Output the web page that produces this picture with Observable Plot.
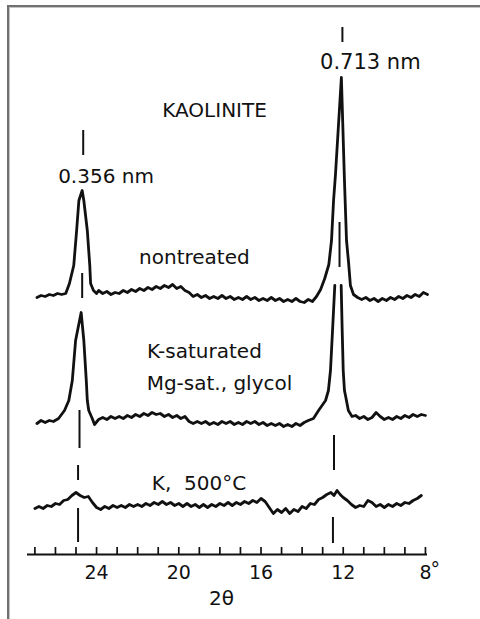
<!DOCTYPE html>
<html>
<head>
<meta charset="utf-8">
<script src="https://cdn.jsdelivr.net/npm/d3@7"></script>
<script src="https://cdn.jsdelivr.net/npm/@observablehq/plot@0.6"></script>
<style>
  html, body { margin: 0; padding: 0; background: #fff; }
  #wrap { position: relative; width: 480px; height: 619px; overflow: hidden; }
  #frame { position: absolute; left: 7px; top: 5px; right: -10px; bottom: -10px;
           border-top: 2px solid #707070; border-left: 2px solid #707070;
           box-shadow: inset 1px 1px 0 #c4c4c4; pointer-events: none; }
</style>
</head>
<body>
<div id="wrap"><div id="frame"></div></div>
<script>
// ---- data (2θ in degrees, relative intensity) ----
const minorTicks = [27,26,25,24,23,22,21,20,19,18,17,16,15,14,13,12,11,10,9,8];
const tickLabels = [24,20,16,12,8];
const seriesNames = ["nontreated", "K-saturated / Mg-sat., glycol", "K, 500°C"];
const offsets = [258, 133, 47];

const nontreated = [
[26.9,-1],[26.7,1],[26.5,0],[26.3,2],[26.1,1],[25.9,3],[25.7,2],[25.5,3],[25.32,13],[25.11,31],
[24.97,66],[24.86,96],[24.7,106],[24.62,96],[24.45,66],[24.33,31],[24.29,13],[24.15,6],[24.0,3],
[23.9,6],[23.7,3],[23.5,5],[23.3,2],[23.1,4],[22.9,3],[22.7,6],[22.5,4],[22.3,7],[22.1,5],[21.9,8],
[21.7,6],[21.5,9],[21.3,7],[21.1,10],[20.9,8],[20.7,11],[20.5,9],[20.3,12],[20.1,8],[19.9,10],
[19.7,6],[19.5,4],[19.3,0],[19.1,2],[18.9,-1],[18.7,1],[18.5,-2],[18.3,0],[18.1,-2],[17.9,1],
[17.7,-2],[17.5,0],[17.3,-3],[17.1,-1],[16.9,-3],[16.7,0],[16.5,-3],[16.3,-1],[16.1,-4],[15.9,-2],
[15.7,-4],[15.5,-1],[15.3,-4],[15.1,-2],[14.9,-5],[14.7,-3],[14.5,-5],[14.3,-2],[14.1,-5],[13.9,-6],
[13.7,-3],[13.5,-5],[13.3,0],[13.1,7],[12.9,18],[12.7,32],[12.57,56],[12.47,96],[12.38,121],
[12.09,219],[11.94,116],[11.84,56],[11.74,34],[11.65,11],[11.5,2],[11.3,-1],[11.1,-3],[10.9,-1],
[10.7,-4],[10.5,-2],[10.3,-5],[10.1,-2],[9.9,-4],[9.7,-1],[9.5,-3],[9.3,0],[9.1,-2],[8.9,1],
[8.7,-1],[8.5,2],[8.3,0],[8.1,4],[7.9,2]
];

const kSaturated = [
[26.9,-2],[26.7,1],[26.5,-1],[26.3,1],[26.1,0],[25.85,3],[25.56,11],[25.35,21],[25.18,41],[25.02,81],
[24.75,109],[24.62,81],[24.5,41],[24.45,21],[24.38,11],[24.21,3],[24.1,-3],[23.9,2],[23.7,4],[23.5,2],
[23.3,5],[23.1,3],[22.9,5],[22.7,3],[22.5,6],[22.3,4],[22.1,7],[21.9,5],[21.7,8],[21.5,6],[21.3,9],
[21.1,7],[20.9,8],[20.7,5],[20.5,7],[20.3,4],[20.1,6],[19.9,3],[19.7,5],[19.5,0],[19.3,-2],[19.1,0],
[18.9,-2],[18.7,0],[18.5,-3],[18.3,-1],[18.1,-3],[17.9,0],[17.7,-2],[17.5,0],[17.3,-3],[17.1,-1],
[16.9,-3],[16.7,0],[16.5,-2],[16.3,0],[16.1,-3],[15.9,-1],[15.7,-4],[15.5,-2],[15.3,-4],[15.1,-2],
[14.9,-5],[14.7,-3],[14.5,-5],[14.3,-2],[14.1,-4],[13.9,-1],[13.7,1],[13.45,3],[13.2,11],[12.86,21],
[12.72,31],[12.62,51],[12.52,91],[12.41,136],[12.25,null],[12.1,136],[12.05,91],[12.0,51],[11.94,31],
[11.89,26],[11.75,11],[11.57,5],[11.4,6],[11.2,3],[11.0,5],[10.8,2],[10.6,4],[10.4,9],[10.2,5],
[10.0,2],[9.8,4],[9.6,2],[9.4,5],[9.2,3],[9.0,6],[8.8,4],[8.6,7],[8.4,5],[8.2,7],[8.0,6]
];

const k500 = [
[27.0,-1],[26.8,1],[26.6,-1],[26.4,2],[26.2,1],[26.0,4],[25.8,3],[25.6,7],[25.4,8],[25.2,12],
[25.0,15],[24.8,12],[24.6,10],[24.4,11],[24.2,5],[24.0,0],[23.8,-2],[23.6,1],[23.4,-1],[23.2,2],
[23.0,0],[22.8,2],[22.6,0],[22.4,3],[22.2,1],[22.0,3],[21.8,1],[21.6,4],[21.4,2],[21.2,5],[21.0,3],
[20.8,6],[20.6,3],[20.4,5],[20.2,2],[20.0,4],[19.8,1],[19.6,4],[19.4,1],[19.2,3],[19.0,0],[18.8,3],
[18.6,0],[18.4,3],[18.2,1],[18.0,4],[17.8,2],[17.6,5],[17.4,2],[17.2,5],[17.0,3],[16.8,6],[16.6,4],
[16.4,7],[16.2,5],[16.0,9],[15.8,6],[15.6,0],[15.4,-6],[15.2,-2],[15.0,-5],[14.8,-1],[14.6,-6],
[14.4,-2],[14.2,-4],[14.0,1],[13.8,-1],[13.6,4],[13.4,3],[13.2,8],[13.0,10],[12.8,13],[12.6,15],
[12.45,12],[12.3,17],[12.15,13],[12.0,10],[11.8,7],[11.6,3],[11.4,0],[11.2,2],[11.0,1],[10.8,7],
[10.6,5],[10.4,1],[10.2,3],[10.0,0],[9.8,3],[9.6,1],[9.4,4],[9.2,2],[9.0,5],[8.8,4],[8.6,7],
[8.4,9],[8.2,12]
];

// reference lines for the 0.356 nm and 0.713 nm reflections (drawn as broken segments)
const markerDeg  = [24.65, 24.70, 24.83, 24.90, 24.90, 12.04, 12.18, 12.45, 12.50];
const markerLow  = [399, 256, 106, 74, 12, 512, 287, 84, 11];
const markerHigh = [424, 281, 144, 89, 46, 527, 332, 119, 37];

// ---- build table ----
const traces = [nontreated, kSaturated, k500];
const rows = [];
traces.forEach((arr, i) => {
  arr.forEach(([deg, v]) => rows.push({
    series: seriesNames[i],
    deg,
    value: v == null ? NaN : offsets[i] + v
  }));
});
const markers = markerDeg.map((d, i) => ({deg: d, lo: markerLow[i], hi: markerHigh[i]}));

const FONT = "DejaVu Sans";
const txt = (label, x, y, size, ls, extra = {}) =>
  Plot.text([label], {x: () => x, y: () => y, text: d => d, fontSize: size,
    fontFamily: FONT, fill: "#111", textAnchor: "middle", ariaLabel: "ls" + ls, ...extra});

const chart = Plot.plot({
  width: 480,
  height: 619,
  marginTop: 0,
  marginBottom: 65,
  marginLeft: 27,
  marginRight: 53,
  x: {domain: [27.36, 7.9], axis: null},
  y: {domain: [0, 554], axis: null},
  style: {background: "transparent", overflow: "visible"},
  marks: [
    Plot.ruleY([0], {stroke: "#111", strokeWidth: 2}),
    Plot.ruleX(minorTicks, {x: d => d, y1: 0, y2: 7, stroke: "#111", strokeWidth: 1.7}),
    Plot.ruleX(markers, {x: "deg", y1: "lo", y2: "hi", stroke: "#111", strokeWidth: 2}),
    Plot.line(rows, {x: "deg", y: "value", z: "series", stroke: "#111",
      strokeWidth: 2.8, strokeLinejoin: "round", strokeLinecap: "round"}),
    // tick labels
    Plot.text(tickLabels, {x: d => d, y: () => -18, text: d => String(d),
      fontSize: 19, fontFamily: FONT, fill: "#111", textAnchor: "middle", ariaLabel: "ls2"}),
    Plot.text(tickLabels.filter(d => d === 8), {x: d => d, y: () => -15, text: () => "°",
      fontSize: 19, fontFamily: FONT, fill: "#111", textAnchor: "start", dx: 5, ariaLabel: "ls0"}),
    txt("2θ", 17.92, -44, 20, 5),
    txt("0.713 nm", 10.68, 492, 21, 0.5),
    txt("KAOLINITE", 18.26, 444, 20, 3),
    txt("0.356 nm", 23.54, 378, 20, 0.6),
    txt("nontreated", 19.24, 297, 20, 0.8),
    txt("K-saturated", 18.75, 203, 20, 1.4),
    txt("Mg-sat., glycol", 18.02, 171, 20, 1.5),
    txt("K,  500°C", 19.02, 71, 20, 3)
  ]
});

d3.select(chart).selectAll("g[aria-label^='ls'] text").each(function() {
  const g = this.closest("g[aria-label^='ls']");
  const ls = g.getAttribute("aria-label").slice(2);
  this.setAttribute("letter-spacing", ls + "px");
});

chart.style.position = "absolute";
chart.style.left = "0px";
chart.style.top = "0px";
const wrap = document.getElementById("wrap");
wrap.insertBefore(chart, wrap.firstChild);
</script>
</body>
</html>
